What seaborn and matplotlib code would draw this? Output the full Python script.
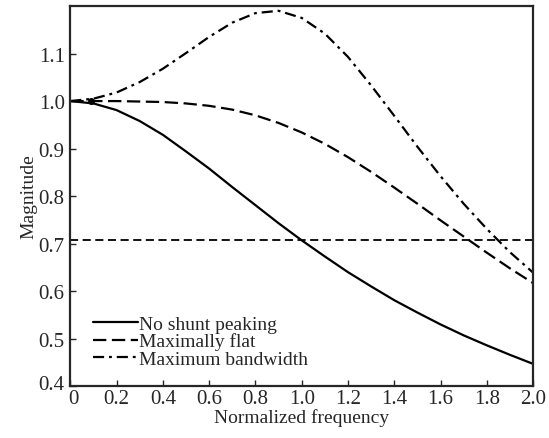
import matplotlib
matplotlib.use("Agg")
import matplotlib.pyplot as plt
import matplotlib.transforms as mtransforms
import seaborn as sns
import pandas as pd

freq = [0.0, 0.1, 0.2, 0.3, 0.4, 0.5, 0.6, 0.7, 0.8, 0.9, 1.0,
        1.1, 1.2, 1.3, 1.4, 1.5, 1.6, 1.7, 1.8, 1.9, 2.0]
no_shunt = [1.0, 0.995, 0.981, 0.958, 0.929, 0.894, 0.858, 0.819, 0.781, 0.743, 0.707,
            0.673, 0.640, 0.610, 0.581, 0.555, 0.530, 0.507, 0.486, 0.466, 0.447]
max_flat = [1.0, 1.0, 1.0, 0.999, 0.998, 0.995, 0.990, 0.982, 0.970, 0.954, 0.934,
            0.910, 0.882, 0.851, 0.818, 0.784, 0.749, 0.715, 0.681, 0.648, 0.617]
max_bw = [1.0, 1.005, 1.018, 1.040, 1.068, 1.101, 1.135, 1.165, 1.185, 1.190, 1.175,
          1.142, 1.093, 1.033, 0.969, 0.904, 0.842, 0.784, 0.731, 0.682, 0.639]
ref_level = [0.707, 0.707]
ref_x = [0.0, 2.0]
dot_x = [0.09]
dot_y = [1.0]

labels = ["No shunt peaking", "Maximally flat", "Maximum bandwidth"]
xtick_vals = [0, 0.2, 0.4, 0.6, 0.8, 1.0, 1.2, 1.4, 1.6, 1.8, 2.0]
xtick_labels = ["0", "0.2", "0.4", "0.6", "0.8", "1.0", "1.2", "1.4", "1.6", "1.8", "2.0"]
ytick_vals = [0.4, 0.5, 0.6, 0.7, 0.8, 0.9, 1.0, 1.1]
ytick_labels = ["0.4", "0.5", "0.6", "0.7", "0.8", "0.9", "1.0", "1.1"]

sns.set_style("ticks")
plt.rcParams["font.family"] = ["Liberation Serif", "DejaVu Serif"]

fig, ax = plt.subplots(figsize=(5.49, 4.39), dpi=100)
fig.subplots_adjust(left=0.128, right=0.971, top=0.984, bottom=0.118)

df = pd.DataFrame({"f": freq, "a": no_shunt, "b": max_flat, "c": max_bw})
sns.lineplot(data=df, x="f", y="a", ax=ax, color="black", lw=1.6, label=labels[0])
l2 = sns.lineplot(data=df, x="f", y="b", ax=ax, color="black", lw=1.6, label=labels[1]).lines[-1]
l2.set_dashes([6, 2.5])
l3 = sns.lineplot(data=df, x="f", y="c", ax=ax, color="black", lw=1.6, label=labels[2]).lines[-1]
l3.set_dashes([5, 2.2, 1.3, 2.2])
ref = sns.lineplot(x=ref_x, y=ref_level, ax=ax, color="black", lw=1.3).lines[-1]
ref.set_dashes([4.5, 2.5])
ax.scatter(dot_x, dot_y, s=16, color="black", zorder=5)

ax.set_xlim(0, 2.0)
ax.set_ylim(0.4, 1.2)
ax.set_xticks(xtick_vals)
ax.set_xticklabels(xtick_labels)
ax.set_yticks(ytick_vals)
ax.set_yticklabels(ytick_labels)
ax.tick_params(direction="in", length=4, width=1, labelsize=15)
ax.tick_params(axis="x", pad=2)
ax.tick_params(axis="y", pad=4)
# nudge the corner labels apart, as in the reference
off_x = mtransforms.ScaledTranslation(3 / 100, 0, fig.dpi_scale_trans)
ax.get_xticklabels()[0].set_transform(ax.get_xticklabels()[0].get_transform() + off_x)
off_y = mtransforms.ScaledTranslation(0, 4 / 100, fig.dpi_scale_trans)
ax.get_yticklabels()[0].set_transform(ax.get_yticklabels()[0].get_transform() + off_y)
for s in ax.spines.values():
    s.set_linewidth(1.6)
    s.set_visible(True)
ax.set_xlabel("Normalized frequency", fontsize=14, labelpad=0)
ax.set_ylabel("Magnitude", fontsize=14, labelpad=1)

leg = ax.legend(loc="lower left", bbox_to_anchor=(0.02, 0.012), frameon=False,
                fontsize=14, handlelength=2.3, handletextpad=0.05, labelspacing=0.0,
                borderpad=0.2)

fig.savefig("out.png", dpi=100)
